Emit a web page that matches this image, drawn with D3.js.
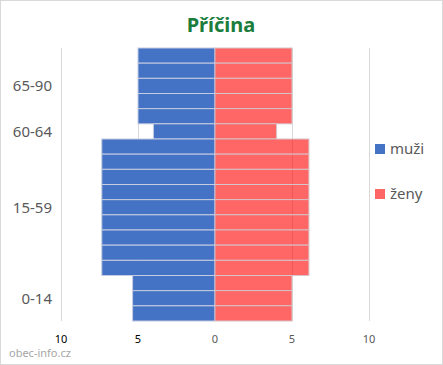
<!DOCTYPE html>
<html>
<head>
<meta charset="utf-8">
<script src="https://cdn.jsdelivr.net/npm/d3@7"></script>
<style>
  body { margin: 0; background: #fff; }
  text { font-family: "Noto Sans", "Open Sans", sans-serif; }
</style>
</head>
<body>
<div id="chart"></div>
<script>
// age groups from bottom to top, and how many thin bars each one has
var ageGroups = ["0-14", "15-59", "60-64", "65-90"];
var rowsPerGroup = [3, 9, 1, 5];
var muzi = [5.35, 7.35, 4, 5];
var zeny = [5, 6.1, 4, 5];
var xTicks = [-10, -5, 0, 5, 10];

var width = 443, height = 365;
var plot = {left: 61, right: 369, top: 48, bottom: 321};

var svg = d3.select("#chart").append("svg")
    .attr("width", width)
    .attr("height", height);

// outer border
svg.append("rect")
    .attr("x", 0.5).attr("y", 0.5)
    .attr("width", width - 1).attr("height", height - 1)
    .attr("fill", "#fff")
    .attr("stroke", "#d9d9d9");

// one row per thin bar, top to bottom
var rows = [];
for (var g = ageGroups.length - 1; g >= 0; g--) {
    for (var r = 0; r < rowsPerGroup[g]; r++) {
        rows.push({group: g, muzi: muzi[g], zeny: zeny[g]});
    }
}

var x = d3.scaleLinear()
    .domain([-10, 10])
    .range([plot.left, plot.right]);

var y = d3.scaleBand()
    .domain(d3.range(rows.length))
    .range([plot.top, plot.bottom])
    .padding(0);

// Title
svg.append("text")
    .attr("x", 221)
    .attr("y", 32)
    .attr("text-anchor", "middle")
    .style("font-size", "20px")
    .style("font-weight", "bold")
    .style("fill", "#1b7d3b")
    .text("Příčina");

// gridlines
svg.append("g")
    .selectAll("line")
    .data(xTicks.filter(function(d) { return d !== 0; }))
    .enter().append("line")
    .attr("x1", function(d) { return x(d) + 0.5; })
    .attr("x2", function(d) { return x(d) + 0.5; })
    .attr("y1", plot.top)
    .attr("y2", plot.bottom)
    .attr("stroke", "#d9d9d9");

// bars
var bars = svg.append("g");

bars.selectAll(".m")
    .data(rows)
    .enter().append("rect")
    .attr("class", "m")
    .attr("x", function(d) { return x(-d.muzi); })
    .attr("y", function(d, i) { return y(i); })
    .attr("width", function(d) { return x(0) - x(-d.muzi); })
    .attr("height", y.bandwidth())
    .attr("fill", "#4472c4")
    .attr("stroke", "#c5cbe0")
    .attr("stroke-width", 1);

bars.selectAll(".z")
    .data(rows)
    .enter().append("rect")
    .attr("class", "z")
    .attr("x", x(0))
    .attr("y", function(d, i) { return y(i); })
    .attr("width", function(d) { return x(d.zeny) - x(0); })
    .attr("height", y.bandwidth())
    .attr("fill", "#ff0000")
    .attr("fill-opacity", 0.6)
    .attr("stroke", "#d8c4c8")
    .attr("stroke-width", 1);

// y labels, centred on each age group
var groupMid = ageGroups.map(function(name, g) {
    var idx = rows.map(function(d, i) { return d.group === g ? i : -1; })
        .filter(function(i) { return i >= 0; });
    return (y(d3.min(idx)) + y(d3.max(idx)) + y.bandwidth()) / 2;
});

svg.append("g")
    .selectAll("text")
    .data(ageGroups)
    .enter().append("text")
    .attr("x", 52)
    .attr("y", function(d, i) { return groupMid[i]; })
    .attr("dy", "0.35em")
    .attr("text-anchor", "end")
    .style("font-size", "15px")
    .style("fill", "#595959")
    .text(function(d) { return d; });

// x axis labels
svg.append("g")
    .selectAll("text")
    .data(xTicks)
    .enter().append("text")
    .attr("x", function(d) { return x(d); })
    .attr("y", 343)
    .attr("text-anchor", "middle")
    .style("font-size", "11px")
    .style("fill", function(d) { return d < 0 ? "#000" : "#595959"; })
    .text(function(d) { return Math.abs(d); });

// legend
var legend = svg.append("g")
    .selectAll("g")
    .data([{name: "muži", color: "#4472c4", op: 1}, {name: "ženy", color: "#ff0000", op: 0.6}])
    .enter().append("g")
    .attr("transform", function(d, i) { return "translate(375," + (144 + i * 45) + ")"; });

legend.append("rect")
    .attr("width", 10)
    .attr("height", 10)
    .attr("fill", function(d) { return d.color; })
    .attr("fill-opacity", function(d) { return d.op; });

legend.append("text")
    .attr("x", 15)
    .attr("y", 5)
    .attr("dy", "0.35em")
    .style("font-size", "15px")
    .style("fill", "#595959")
    .text(function(d) { return d.name; });

// source
svg.append("text")
    .attr("x", 9)
    .attr("y", 357)
    .style("font-size", "11px")
    .style("fill", "#a6a6a6")
    .text("obec-info.cz");
</script>
</body>
</html>
